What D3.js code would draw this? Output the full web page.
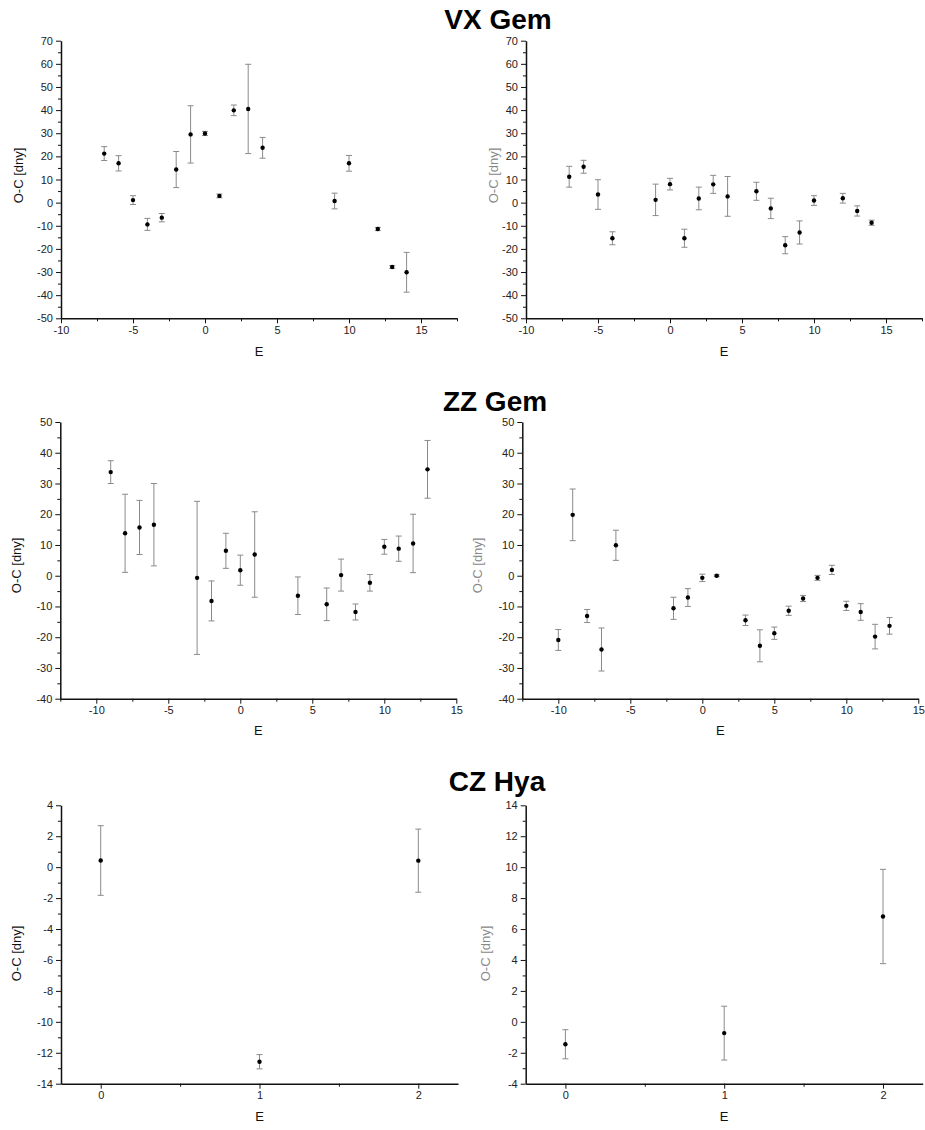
<!DOCTYPE html>
<html><head><meta charset="utf-8">
<script src="https://cdn.jsdelivr.net/npm/d3@7/dist/d3.min.js"></script>
<style>
body{margin:0;background:#fff;}
svg{display:block;font-family:Arial,"Liberation Sans",sans-serif;}
</style></head>
<body>
<svg id="chart" width="925" height="1130"></svg>
<script>
// ---------- DATA ----------
const titles = ["VX Gem", "ZZ Gem", "CZ Hya"];
const yLabel = "O-C [dny]";
const xLabel = "E";

// VX Gem, left
const vxLeftE   = [-7, -6, -5, -4, -3, -2, -1, 0, 1, 2, 3, 4, 9, 10, 12, 13, 14];
const vxLeftOC  = [21.2, 17.0, 1.1, -9.4, -6.5, 14.3, 29.5, 29.9, 2.9, 39.9, 40.5, 23.7, 0.7, 17.0, -11.4, -27.8, -30.1];
const vxLeftErr = [3.0, 3.3, 1.9, 2.6, 1.8, 7.8, 12.4, 0.9, 0.8, 2.3, 19.3, 4.5, 3.4, 3.4, 0.7, 0.6, 8.6];
// VX Gem, right
const vxRightE   = [-7, -6, -5, -4, -1, 0, 1, 2, 3, 4, 6, 7, 8, 9, 10, 12, 13, 14];
const vxRightOC  = [11.2, 15.5, 3.5, -15.4, 1.2, 8.0, -15.4, 1.8, 7.9, 2.7, 4.9, -2.5, -18.4, -12.9, 0.9, 1.9, -3.6, -8.7];
const vxRightErr = [4.5, 2.8, 6.4, 2.8, 6.8, 2.5, 3.9, 4.9, 3.9, 8.6, 3.9, 4.4, 3.7, 5.0, 2.1, 2.1, 2.2, 1.1];
// ZZ Gem, left
const zzLeftE   = [-9, -8, -7, -6, -3, -2, -1, 0, 1, 4, 6, 7, 8, 9, 10, 11, 12, 13];
const zzLeftOC  = [33.7, 13.8, 15.7, 16.6, -0.7, -8.2, 8.1, 1.8, 6.9, -6.5, -9.3, 0.2, -11.8, -2.3, 9.4, 8.8, 10.5, 34.6];
const zzLeftErr = [3.7, 12.7, 8.8, 13.4, 24.9, 6.5, 5.7, 4.9, 13.9, 6.1, 5.3, 5.2, 2.6, 2.7, 2.4, 4.1, 9.5, 9.4];
// ZZ Gem, right
const zzRightE   = [-10, -9, -8, -7, -6, -2, -1, 0, 1, 3, 4, 5, 6, 7, 8, 9, 10, 11, 12, 13];
const zzRightOC  = [-20.9, 19.8, -13.1, -24.0, 9.9, -10.6, -7.1, -0.7, 0.0, -14.5, -22.8, -18.7, -11.4, -7.4, -0.7, 1.9, -9.8, -11.8, -19.8, -16.3];
const zzRightErr = [3.4, 8.4, 2.1, 7.0, 4.9, 3.6, 2.9, 1.2, 0.3, 1.7, 5.2, 2.0, 1.5, 1.0, 0.8, 1.5, 1.5, 2.7, 4.0, 2.7];
// CZ Hya, left
const czLeftE   = [0, 1, 2];
const czLeftOC  = [0.43, -12.58, 0.42];
const czLeftErr = [2.25, 0.46, 2.04];
// CZ Hya, right
const czRightE   = [0, 1, 2];
const czRightOC  = [-1.45, -0.73, 6.81];
const czRightErr = [0.94, 1.74, 3.05];

// Axis tick values
const vxXMajor = [-10, -5, 0, 5, 10, 15];
const vxXMinor = [-7.5, -2.5, 2.5, 7.5, 12.5, 17.5];
const vxYMajor = [-50, -40, -30, -20, -10, 0, 10, 20, 30, 40, 50, 60, 70];
const vxYMinor = [-45, -35, -25, -15, -5, 5, 15, 25, 35, 45, 55, 65];
const zzXMajor = [-10, -5, 0, 5, 10, 15];
const zzXMinor = [-12.5, -7.5, -2.5, 2.5, 7.5, 12.5];
const zzYMajor = [-40, -30, -20, -10, 0, 10, 20, 30, 40, 50];
const zzYMinor = [-35, -25, -15, -5, 5, 15, 25, 35, 45];
const czXMajor = [0, 1, 2];
const czXMinor = [0.5, 1.5];
const czLeftYMajor = [-14, -12, -10, -8, -6, -4, -2, 0, 2, 4];
const czLeftYMinor = [-13, -11, -9, -7, -5, -3, -1, 1, 3];
const czRightYMajor = [-4, -2, 0, 2, 4, 6, 8, 10, 12, 14];
const czRightYMinor = [-3, -1, 1, 3, 5, 7, 9, 11, 13];

// ---------- DRAW ----------
const svg = d3.select("#chart");

function panel(cfg) {
  const g = svg.append("g").attr("transform", `translate(${cfg.left},${cfg.top})`);
  const x = d3.scaleLinear().domain(cfg.xDomain).range([0, cfg.w]);
  const y = d3.scaleLinear().domain(cfg.yDomain).range([cfg.h, 0]);
  const fmt = d => String(d);

  // minor ticks
  const xm = g.append("g").attr("transform", `translate(0,${cfg.h})`)
    .call(d3.axisBottom(x).tickValues(cfg.xMinor).tickSize(3).tickFormat(""));
  xm.select(".domain").remove();
  const ym = g.append("g")
    .call(d3.axisLeft(y).tickValues(cfg.yMinor).tickSize(3).tickFormat(""));
  ym.select(".domain").remove();

  // major
  const xa = g.append("g").attr("transform", `translate(0,${cfg.h})`)
    .call(d3.axisBottom(x).tickValues(cfg.xMajor).tickSize(5).tickSizeOuter(0).tickPadding(3).tickFormat(fmt));
  const ya = g.append("g")
    .call(d3.axisLeft(y).tickValues(cfg.yMajor).tickSize(5).tickSizeOuter(0).tickPadding(3).tickFormat(fmt));
  [xa, ya, xm, ym].forEach(a => {
    a.selectAll("line").attr("stroke", "#111").attr("stroke-width", 1);
    a.selectAll("text").attr("fill", "#222").style("font-size", "11px").style("font-family", "Arial, 'Liberation Sans', sans-serif");
  });
  xa.select(".domain").attr("stroke", "#111").attr("stroke-width", 1.5);
  ya.select(".domain").attr("stroke", "#111").attr("stroke-width", 1.5);

  // error bars
  const eb = g.append("g").attr("stroke", "#8a8a8a").attr("stroke-width", 1).attr("fill", "none");
  cfg.E.forEach((e, i) => {
    const cx = x(e), y1 = y(cfg.OC[i] + cfg.err[i]), y2 = y(cfg.OC[i] - cfg.err[i]);
    eb.append("line").attr("x1", cx).attr("x2", cx).attr("y1", y1).attr("y2", y2);
    eb.append("line").attr("x1", cx - 3).attr("x2", cx + 3).attr("y1", y1).attr("y2", y1);
    eb.append("line").attr("x1", cx - 3).attr("x2", cx + 3).attr("y1", y2).attr("y2", y2);
  });
  // points
  g.append("g").selectAll("circle").data(cfg.E).join("circle")
    .attr("cx", d => x(d)).attr("cy", (d, i) => y(cfg.OC[i])).attr("r", 2.2).attr("fill", "#000");

  // labels
  g.append("text").attr("transform", `translate(${cfg.ylx},${cfg.h / 2 + cfg.yly}) rotate(-90)`)
    .attr("text-anchor", "middle").attr("fill", cfg.ylColor).style("font-size", "13px").text(yLabel);
  g.append("text").attr("x", cfg.w / 2).attr("y", cfg.h + cfg.xly)
    .attr("text-anchor", "middle").attr("fill", "#111").style("font-size", "13px").text(xLabel);
}

function title(t, cx, by) {
  svg.append("text").attr("x", cx).attr("y", by).attr("text-anchor", "middle")
    .style("font-size", "28px").style("font-weight", "bold").attr("fill", "#000").text(t);
}

title(titles[0], 498, 29);
title(titles[1], 495, 411);
title(titles[2], 497, 791);

panel({left: 61, top: 40.7, w: 396, h: 277.6, xDomain: [-10, 17.5], yDomain: [-50, 70],
  xMajor: vxXMajor, xMinor: vxXMinor, yMajor: vxYMajor, yMinor: vxYMinor,
  E: vxLeftE, OC: vxLeftOC, err: vxLeftErr, ylColor: "#111", ylx: -38, yly: -4, xly: 38});
panel({left: 526, top: 40.7, w: 396, h: 277.6, xDomain: [-10, 17.5], yDomain: [-50, 70],
  xMajor: vxXMajor, xMinor: vxXMinor, yMajor: vxYMajor, yMinor: vxYMinor,
  E: vxRightE, OC: vxRightOC, err: vxRightErr, ylColor: "#888", ylx: -28, yly: -4, xly: 38});
panel({left: 60.3, top: 422, w: 396, h: 276.7, xDomain: [-12.5, 15], yDomain: [-40, 50],
  xMajor: zzXMajor, xMinor: zzXMinor, yMajor: zzYMajor, yMinor: zzYMinor,
  E: zzLeftE, OC: zzLeftOC, err: zzLeftErr, ylColor: "#111", ylx: -39, yly: 5, xly: 36});
panel({left: 522.3, top: 422, w: 396, h: 276.7, xDomain: [-12.5, 15], yDomain: [-40, 50],
  xMajor: zzXMajor, xMinor: zzXMinor, yMajor: zzYMajor, yMinor: zzYMinor,
  E: zzRightE, OC: zzRightOC, err: zzRightErr, ylColor: "#888", ylx: -40, yly: 5, xly: 36});
panel({left: 61, top: 805.3, w: 397, h: 278.4, xDomain: [-0.25, 2.25], yDomain: [-14, 4],
  xMajor: czXMajor, xMinor: czXMinor, yMajor: czLeftYMajor, yMinor: czLeftYMinor,
  E: czLeftE, OC: czLeftOC, err: czLeftErr, ylColor: "#111", ylx: -40, yly: 9, xly: 37});
panel({left: 525.7, top: 805.3, w: 397, h: 278.4, xDomain: [-0.25, 2.25], yDomain: [-4, 14],
  xMajor: czXMajor, xMinor: czXMinor, yMajor: czRightYMajor, yMinor: czRightYMinor,
  E: czRightE, OC: czRightOC, err: czRightErr, ylColor: "#888", ylx: -36, yly: 9, xly: 37});
</script>
</body></html>
